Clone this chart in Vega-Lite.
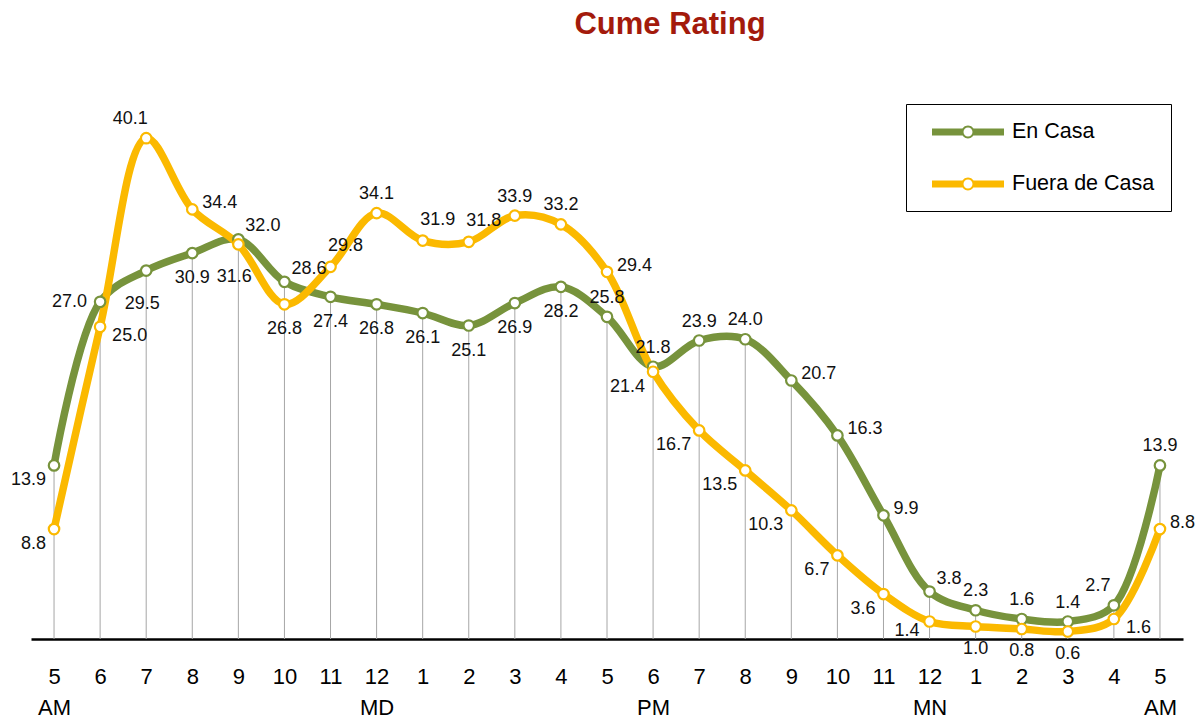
{
  "$schema": "https://vega.github.io/schema/vega-lite/v6.json",
  "width": 1152,
  "height": 562,
  "autosize": "none",
  "padding": {"left": 31, "top": 77, "right": 17, "bottom": 82},
  "title": {
    "text": "Cume Rating",
    "font": "Liberation Sans, Arial, sans-serif",
    "fontSize": 31,
    "fontWeight": "bold",
    "color": "#A31A0C",
    "anchor": "middle",
    "dx": 63,
    "baseline": "alphabetic",
    "offset": 12
  },
  "data": {
    "values": [
      {"h": 5, "serie": "En Casa", "rating": 13.9},
      {"h": 6, "serie": "En Casa", "rating": 27.0},
      {"h": 7, "serie": "En Casa", "rating": 29.5},
      {"h": 8, "serie": "En Casa", "rating": 30.9},
      {"h": 9, "serie": "En Casa", "rating": 32.0},
      {"h": 10, "serie": "En Casa", "rating": 28.6},
      {"h": 11, "serie": "En Casa", "rating": 27.4},
      {"h": 12, "serie": "En Casa", "rating": 26.8},
      {"h": 13, "serie": "En Casa", "rating": 26.1},
      {"h": 14, "serie": "En Casa", "rating": 25.1},
      {"h": 15, "serie": "En Casa", "rating": 26.9},
      {"h": 16, "serie": "En Casa", "rating": 28.2},
      {"h": 17, "serie": "En Casa", "rating": 25.8},
      {"h": 18, "serie": "En Casa", "rating": 21.8},
      {"h": 19, "serie": "En Casa", "rating": 23.9},
      {"h": 20, "serie": "En Casa", "rating": 24.0},
      {"h": 21, "serie": "En Casa", "rating": 20.7},
      {"h": 22, "serie": "En Casa", "rating": 16.3},
      {"h": 23, "serie": "En Casa", "rating": 9.9},
      {"h": 24, "serie": "En Casa", "rating": 3.8},
      {"h": 25, "serie": "En Casa", "rating": 2.3},
      {"h": 26, "serie": "En Casa", "rating": 1.6},
      {"h": 27, "serie": "En Casa", "rating": 1.4},
      {"h": 28, "serie": "En Casa", "rating": 2.7},
      {"h": 29, "serie": "En Casa", "rating": 13.9},
      {"h": 5, "serie": "Fuera de Casa", "rating": 8.8},
      {"h": 6, "serie": "Fuera de Casa", "rating": 25.0},
      {"h": 7, "serie": "Fuera de Casa", "rating": 40.1},
      {"h": 8, "serie": "Fuera de Casa", "rating": 34.4},
      {"h": 9, "serie": "Fuera de Casa", "rating": 31.6},
      {"h": 10, "serie": "Fuera de Casa", "rating": 26.8},
      {"h": 11, "serie": "Fuera de Casa", "rating": 29.8},
      {"h": 12, "serie": "Fuera de Casa", "rating": 34.1},
      {"h": 13, "serie": "Fuera de Casa", "rating": 31.9},
      {"h": 14, "serie": "Fuera de Casa", "rating": 31.8},
      {"h": 15, "serie": "Fuera de Casa", "rating": 33.9},
      {"h": 16, "serie": "Fuera de Casa", "rating": 33.2},
      {"h": 17, "serie": "Fuera de Casa", "rating": 29.4},
      {"h": 18, "serie": "Fuera de Casa", "rating": 21.4},
      {"h": 19, "serie": "Fuera de Casa", "rating": 16.7},
      {"h": 20, "serie": "Fuera de Casa", "rating": 13.5},
      {"h": 21, "serie": "Fuera de Casa", "rating": 10.3},
      {"h": 22, "serie": "Fuera de Casa", "rating": 6.7},
      {"h": 23, "serie": "Fuera de Casa", "rating": 3.6},
      {"h": 24, "serie": "Fuera de Casa", "rating": 1.4},
      {"h": 25, "serie": "Fuera de Casa", "rating": 1.0},
      {"h": 26, "serie": "Fuera de Casa", "rating": 0.8},
      {"h": 27, "serie": "Fuera de Casa", "rating": 0.6},
      {"h": 28, "serie": "Fuera de Casa", "rating": 1.6},
      {"h": 29, "serie": "Fuera de Casa", "rating": 8.8}
    ]
  },
  "encoding": {
    "x": {
      "field": "h",
      "type": "quantitative",
      "scale": {"domain": [4.5, 29.5], "nice": false, "zero": false},
      "axis": {
        "title": null,
        "values": [5, 6, 7, 8, 9, 10, 11, 12, 13, 14, 15, 16, 17, 18, 19, 20, 21, 22, 23, 24, 25, 26, 27, 28, 29],
        "labelExpr": "[toString(((datum.value + 11) % 12) + 1), (datum.value == 5 || datum.value == 29) ? 'AM' : datum.value == 12 ? 'MD' : datum.value == 18 ? 'PM' : datum.value == 24 ? 'MN' : '']",
        "grid": false,
        "ticks": false,
        "tickSize": 0,
        "domainColor": "#000000",
        "domainWidth": 2.5,
        "labelFont": "Liberation Sans, Arial, sans-serif",
        "labelFontSize": 22,
        "labelColor": "#000000",
        "labelPadding": 27,
        "labelAlign": "center",
        "labelBaseline": "top",
        "labelLineHeight": 31,
        "labelFlush": false,
        "labelOverlap": false,
        "labelBound": false
      }
    },
    "y": {
      "field": "rating",
      "type": "quantitative",
      "scale": {"domain": [0, 45], "nice": false},
      "axis": null
    }
  },
  "layer": [
    {
      "transform": [{"filter": "datum.serie == 'En Casa'"}],
      "mark": {"type": "rule", "color": "#A6A6A6", "strokeWidth": 1},
      "encoding": {"y2": {"datum": 0}}
    },
    {
      "mark": {"type": "line", "strokeWidth": 7.5, "interpolate": "catmull-rom", "strokeCap": "round", "strokeJoin": "round"},
      "encoding": {
        "color": {
          "field": "serie",
          "type": "nominal",
          "scale": {"domain": ["En Casa", "Fuera de Casa"], "range": ["#77933C", "#FBB900"]},
          "legend": {
            "orient": "none",
            "legendX": 875,
            "legendY": 27,
            "title": null,
            "symbolType": "M-3,-0.29H-0.45V0.29H-3Z M0.45,-0.29H3V0.29H0.45Z M0.54,0A0.54,0.54 0 1,1 -0.54,0A0.54,0.54 0 1,1 0.54,0Z M0.375,0A0.375,0.375 0 1,0 -0.375,0A0.375,0.375 0 1,0 0.375,0Z",
            "symbolSize": 576,
            "symbolStrokeWidth": 0,
            "symbolOffset": 34,
            "labelOffset": 32,
            "rowPadding": 29,
            "padding": 16,
            "strokeColor": "#000000",
            "fillColor": "#FFFFFF",
            "cornerRadius": 0,
            "labelFont": "Liberation Sans, Arial, sans-serif",
            "labelFontSize": 21.5,
            "labelColor": "#000000",
            "labelLimit": 400,
            "encode": {
              "symbols": {
                "update": {
                  "fill": {"scale": "color", "field": "value"},
                  "stroke": {"value": "transparent"},
                  "strokeWidth": {"value": 0},
                  "opacity": {"value": 1}
                }
              }
            }
          }
        }
      }
    },
    {
      "mark": {"type": "point", "shape": "circle", "size": 110, "strokeWidth": 2.2, "fill": "#FFFFFF", "fillOpacity": 1, "opacity": 1},
      "encoding": {
        "stroke": {
          "field": "serie",
          "type": "nominal",
          "scale": {"domain": ["En Casa", "Fuera de Casa"], "range": ["#77933C", "#FBB900"]},
          "legend": null
        }
      }
    },
    {
      "transform": [{"filter": "datum.serie == 'En Casa' ? indexof([17,18,19,20,25,26,27,29], datum.h) >= 0 : indexof([12,15,16], datum.h) >= 0"}],
      "mark": {"type": "text", "align": "center", "baseline": "middle", "dx": 0, "dy": -19, "font": "Liberation Sans, Arial, sans-serif", "fontSize": 18, "color": "#111111"},
      "encoding": {"text": {"field": "rating", "type": "quantitative", "format": ".1f"}}
    },
    {
      "transform": [{"filter": "datum.serie == 'Fuera de Casa' && indexof([11,13,14], datum.h) >= 0"}],
      "mark": {"type": "text", "align": "center", "baseline": "middle", "dx": 15, "dy": -21, "font": "Liberation Sans, Arial, sans-serif", "fontSize": 18, "color": "#111111"},
      "encoding": {"text": {"field": "rating", "type": "quantitative", "format": ".1f"}}
    },
    {
      "transform": [{"filter": "datum.serie == 'En Casa' ? datum.h == 28 : datum.h == 7"}],
      "mark": {"type": "text", "align": "center", "baseline": "middle", "dx": -16, "dy": -19, "font": "Liberation Sans, Arial, sans-serif", "fontSize": 18, "color": "#111111"},
      "encoding": {"text": {"field": "rating", "type": "quantitative", "format": ".1f"}}
    },
    {
      "transform": [{"filter": "datum.serie == 'En Casa' ? indexof([8,11,12,13,14,15,16], datum.h) >= 0 : datum.h == 10"}],
      "mark": {"type": "text", "align": "center", "baseline": "middle", "dx": 0, "dy": 25, "font": "Liberation Sans, Arial, sans-serif", "fontSize": 18, "color": "#111111"},
      "encoding": {"text": {"field": "rating", "type": "quantitative", "format": ".1f"}}
    },
    {
      "transform": [{"filter": "datum.serie == 'Fuera de Casa' && indexof([25,26,27], datum.h) >= 0"}],
      "mark": {"type": "text", "align": "center", "baseline": "middle", "dx": 0, "dy": 22, "font": "Liberation Sans, Arial, sans-serif", "fontSize": 18, "color": "#111111"},
      "encoding": {"text": {"field": "rating", "type": "quantitative", "format": ".1f"}}
    },
    {
      "transform": [{"filter": "datum.serie == 'En Casa' ? datum.h == 7 : datum.h == 9"}],
      "mark": {"type": "text", "align": "center", "baseline": "middle", "dx": -4, "dy": 33, "font": "Liberation Sans, Arial, sans-serif", "fontSize": 18, "color": "#111111"},
      "encoding": {"text": {"field": "rating", "type": "quantitative", "format": ".1f"}}
    },
    {
      "transform": [{"filter": "datum.serie == 'En Casa' && datum.h == 6"}],
      "mark": {"type": "text", "align": "right", "baseline": "middle", "dx": -13, "dy": 0, "font": "Liberation Sans, Arial, sans-serif", "fontSize": 18, "color": "#111111"},
      "encoding": {"text": {"field": "rating", "type": "quantitative", "format": ".1f"}}
    },
    {
      "transform": [{"filter": "datum.serie == 'En Casa' ? indexof([21,22,23], datum.h) >= 0 : indexof([8,17,29], datum.h) >= 0"}],
      "mark": {"type": "text", "align": "left", "baseline": "middle", "dx": 10, "dy": -6, "font": "Liberation Sans, Arial, sans-serif", "fontSize": 18, "color": "#111111"},
      "encoding": {"text": {"field": "rating", "type": "quantitative", "format": ".1f"}}
    },
    {
      "transform": [{"filter": "datum.serie == 'En Casa' && indexof([9,10,24], datum.h) >= 0"}],
      "mark": {"type": "text", "align": "left", "baseline": "middle", "dx": 7, "dy": -13, "font": "Liberation Sans, Arial, sans-serif", "fontSize": 18, "color": "#111111"},
      "encoding": {"text": {"field": "rating", "type": "quantitative", "format": ".1f"}}
    },
    {
      "transform": [{"filter": "datum.serie == 'En Casa' ? datum.h == 5 : indexof([5,18,19,20,21,22,23], datum.h) >= 0"}],
      "mark": {"type": "text", "align": "right", "baseline": "middle", "dx": -8, "dy": 15, "font": "Liberation Sans, Arial, sans-serif", "fontSize": 18, "color": "#111111"},
      "encoding": {"text": {"field": "rating", "type": "quantitative", "format": ".1f"}}
    },
    {
      "transform": [{"filter": "datum.serie == 'Fuera de Casa' && datum.h == 24"}],
      "mark": {"type": "text", "align": "right", "baseline": "middle", "dx": -10, "dy": 9, "font": "Liberation Sans, Arial, sans-serif", "fontSize": 18, "color": "#111111"},
      "encoding": {"text": {"field": "rating", "type": "quantitative", "format": ".1f"}}
    },
    {
      "transform": [{"filter": "datum.serie == 'Fuera de Casa' && indexof([6,28], datum.h) >= 0"}],
      "mark": {"type": "text", "align": "left", "baseline": "middle", "dx": 12, "dy": 9, "font": "Liberation Sans, Arial, sans-serif", "fontSize": 18, "color": "#111111"},
      "encoding": {"text": {"field": "rating", "type": "quantitative", "format": ".1f"}}
    }
  ],
  "config": {
    "view": {"stroke": null},
    "background": "#FFFFFF"
  }
}
